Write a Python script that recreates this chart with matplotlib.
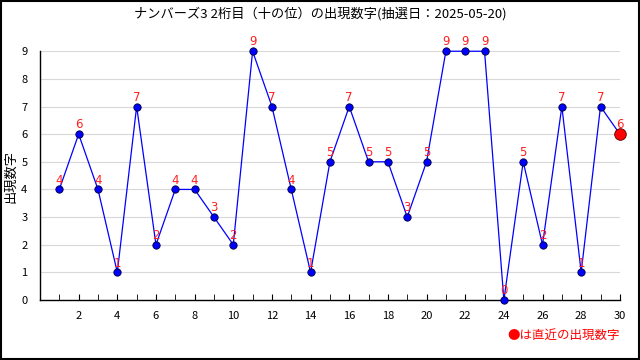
import matplotlib
matplotlib.use("Agg")
import matplotlib.pyplot as plt
from matplotlib.ticker import MultipleLocator, FixedLocator

plt.rcParams['font.family'] = ['Noto Sans CJK JP', 'DejaVu Sans']

draws = list(range(1, 31))
digits = [4, 6, 4, 1, 7, 2, 4, 4, 3, 2, 9, 7, 4, 1, 5, 7, 5, 5, 3, 5,
          9, 9, 9, 0, 5, 2, 7, 1, 7, 6]
title = "ナンバーズ3 2桁目（十の位）の出現数字(抽選日：2025-05-20)"
ylabel = "出現数字"
note = "●は直近の出現数字"

fig = plt.figure(figsize=(6.4, 3.6), dpi=100)
ax = fig.add_axes([0.0625, 0.1667, 0.906, 0.691])

ax.plot(draws, digits, color="#0000ff", lw=0.9, zorder=3, clip_on=False)
ax.scatter(draws[:-1], digits[:-1], s=28, color="#0000ff", edgecolor="#000033",
           lw=0.6, zorder=4, clip_on=False)
ax.scatter(draws[-1:], digits[-1:], s=70, color="#ff0000", edgecolor="#550000",
           lw=0.6, zorder=5, clip_on=False)
for x, y in zip(draws, digits):
    ax.annotate(str(y), (x, y), xytext=(0, 2), textcoords="offset points",
                ha="center", va="bottom", color="#ff2020", fontsize=8.5,
                family="DejaVu Sans", zorder=6, annotation_clip=False)

ax.set_xlim(0, 30)
ax.set_ylim(0, 9)
ax.xaxis.set_major_locator(FixedLocator(list(range(2, 31, 2))))
ax.xaxis.set_minor_locator(MultipleLocator(1))
ax.yaxis.set_major_locator(MultipleLocator(1))
ax.tick_params(axis="x", which="both", direction="in", length=4, labelsize=8, pad=8)
ax.tick_params(axis="y", length=0, labelsize=8, pad=9)
ax.grid(axis="y", color="#d8d8d8", lw=0.8, zorder=0)
for s in ["top", "right"]:
    ax.spines[s].set_visible(False)
ax.spines["left"].set_linewidth(1.0)
ax.spines["bottom"].set_linewidth(1.0)

fig.text(0.017, 0.51, ylabel, rotation=90, ha="center", va="center", fontsize=9.5)
fig.text(0.5, 0.963, title, ha="center", va="center", fontsize=9.5)
fig.text(0.968, 0.068, note, ha="right", va="center", fontsize=9, color="#ff0000")

fig.patches.append(plt.Rectangle((0.0008, 0.0014), 0.9984, 0.9972, transform=fig.transFigure,
                                 fill=False, edgecolor="black", lw=1.5))
fig.savefig("out.png", dpi=100)
